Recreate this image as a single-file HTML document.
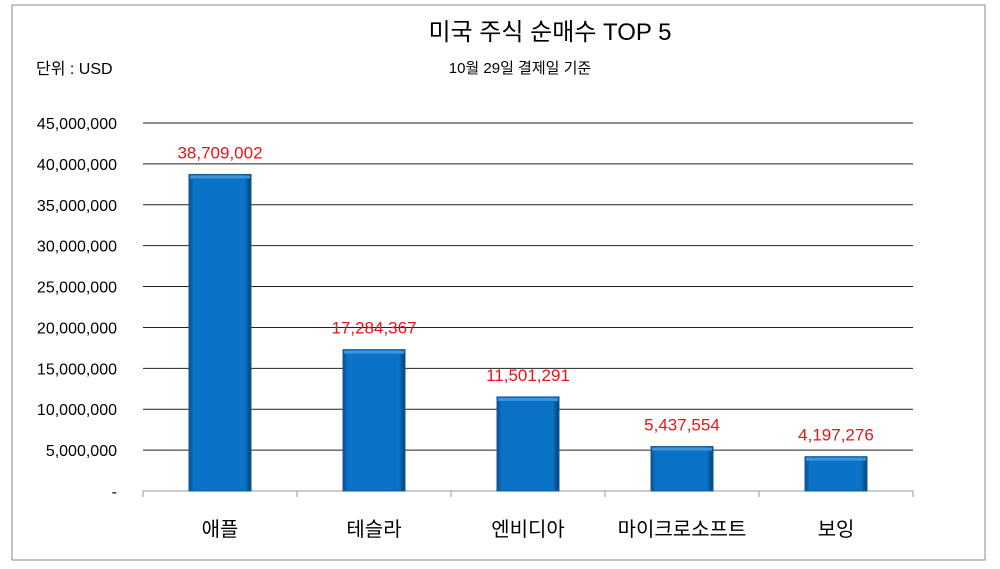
<!DOCTYPE html>
<html><head><meta charset="utf-8">
<style>
body{margin:0;background:#fff;}
svg{display:block;font-family:"Liberation Sans","Noto Sans CJK KR",sans-serif;}
</style></head>
<body>
<svg id="chart" width="1000" height="569" viewBox="0 0 1000 569" xmlns="http://www.w3.org/2000/svg">
<defs>
<linearGradient id="bg" x1="0" x2="1" y1="0" y2="0">
<stop offset="0" stop-color="#0a4f8f"/><stop offset="0.08" stop-color="#0a73c8"/>
<stop offset="0.9" stop-color="#0a73c8"/><stop offset="1" stop-color="#083e70"/>
</linearGradient>
</defs>
<rect x="12" y="5" width="973" height="555" fill="#fff" stroke="#888" stroke-width="1"/>
<text x="550" y="40" font-size="24" text-anchor="middle" fill="#000">미국 주식 순매수 TOP 5</text>
<text x="520" y="73" font-size="15" text-anchor="middle" fill="#000">10월 29일 결제일 기준</text>
<text x="36" y="74" font-size="16" fill="#000">단위 : USD</text>
<g id="grid"></g><g id="bars"></g><g id="labels"></g>
</svg>
<script>
const categories=["애플","테슬라","엔비디아","마이크로소프트","보잉"];
const values=[38709002,17284367,11501291,5437554,4197276];
const valueLabels=["38,709,002","17,284,367","11,501,291","5,437,554","4,197,276"];
const tickValues=[0,5000000,10000000,15000000,20000000,25000000,30000000,35000000,40000000,45000000];
const tickLabels=["-","5,000,000","10,000,000","15,000,000","20,000,000","25,000,000","30,000,000","35,000,000","40,000,000","45,000,000"];
const NS="http://www.w3.org/2000/svg";
const x0=143,x1=913,y0=491,yTop=123,maxV=45000000;
const y=v=>y0-(v/maxV)*(y0-yTop);
const bw=(x1-x0)/categories.length;
const xc=i=>x0+bw*(i+0.5);
function mk(tag,attrs,parent,text){const e=document.createElementNS(NS,tag);for(const k in attrs)e.setAttribute(k,attrs[k]);if(text!==undefined)e.textContent=text;parent.appendChild(e);return e;}
const grid=document.getElementById('grid'),bars=document.getElementById('bars'),labels=document.getElementById('labels');
tickValues.forEach((v,i)=>{
  if(v>0){const l=mk('line',{x1:x0,x2:x1,y1:y(v),y2:y(v),stroke:'#222','stroke-width':1},grid);
  
  }
  const t=mk('text',{x:117,y:y(v)+6,'font-size':16,'text-anchor':'end',fill:'#000'},grid,tickLabels[i]);
  
  
});
const ax=mk('line',{x1:x0,x2:x1,y1:y0,y2:y0,stroke:'#999','stroke-width':1},grid);


for(let i=0;i<=categories.length;i++){const tk=mk('line',{x1:x0+bw*i,x2:x0+bw*i,y1:y0,y2:y0+6,stroke:'#999'},grid);

}
values.forEach((v,i)=>{
  const w=62,xx=xc(i)-w/2;
  const r=mk('rect',{x:xx,y:y(v),width:w,height:y0-y(v),fill:'url(#bg)',stroke:'#0a5a9e','stroke-width':1},bars);
  
  
  mk('rect',{x:xx+1,y:y(v)+1,width:w-2,height:3,fill:'#3d95dd'},bars);
  const t=mk('text',{x:xc(i),y:y(v)-16,'font-size':17,'text-anchor':'middle',fill:'#e8141a'},labels,valueLabels[i]);
  
  
  const c=mk('text',{x:xc(i),y:536,'font-size':20,'text-anchor':'middle',fill:'#000'},labels,categories[i]);
  
  
});
</script>
</body></html>
